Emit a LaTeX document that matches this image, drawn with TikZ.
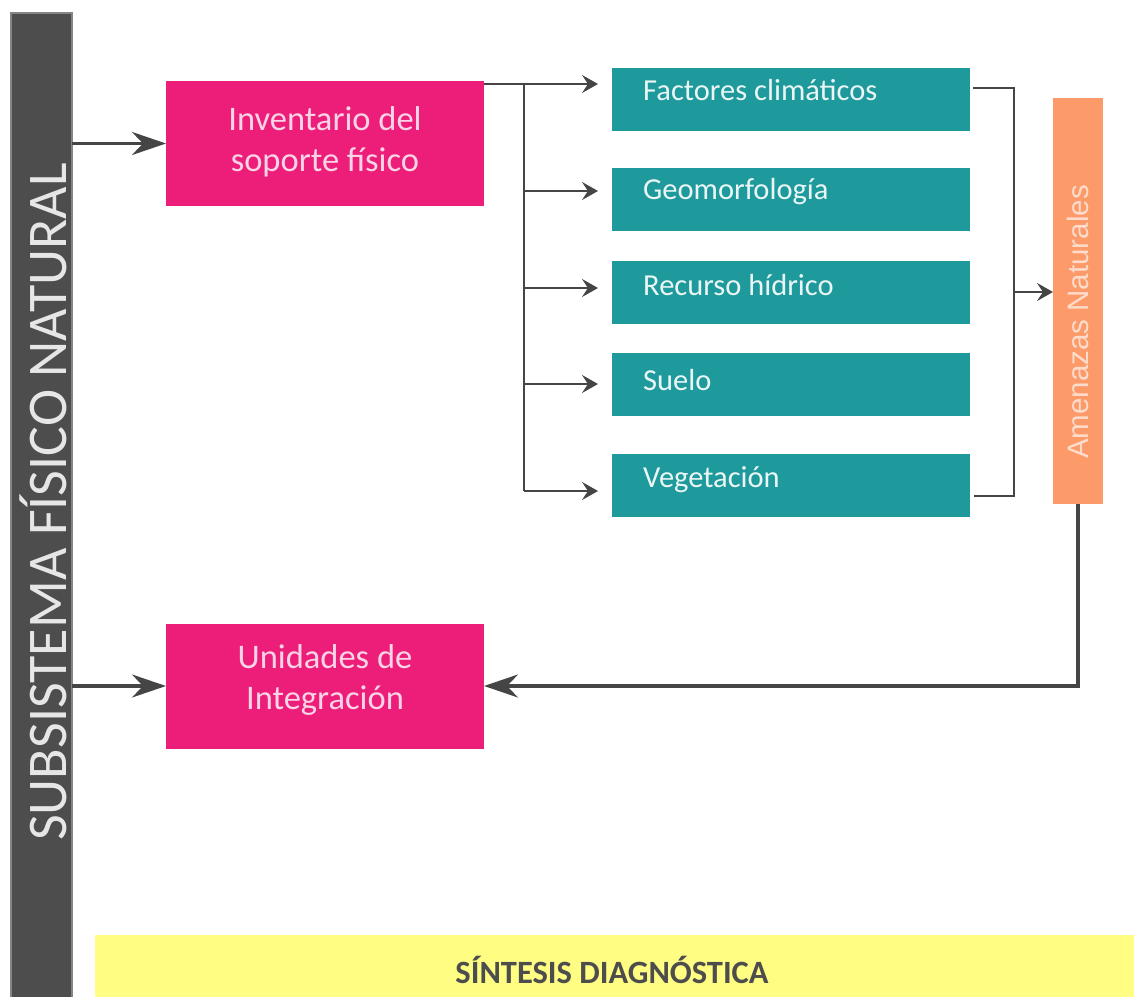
\documentclass[tikz,border=0pt]{standalone}
\usepackage{fontspec}
\setmainfont{Carlito}
\newfontfamily\arialf{Liberation Sans}
\usetikzlibrary{arrows.meta,calc}
\definecolor{barGray}{HTML}{4D4D4D}
\definecolor{barEdge}{HTML}{858585}
\definecolor{pinkBox}{HTML}{ED1E79}
\definecolor{pinkText}{HTML}{F9D3E6}
\definecolor{tealBox}{HTML}{1E999C}
\definecolor{tealText}{HTML}{EAF6F6}
\definecolor{orangeBox}{HTML}{FD9A6A}
\definecolor{orangeText}{HTML}{FDDCCB}
\definecolor{yellowBar}{HTML}{FFFD82}
\definecolor{lineGray}{HTML}{454545}
\definecolor{barText}{HTML}{E6E6E6}
\begin{document}
\begin{tikzpicture}[x=1pt,y=-1pt,
 box/.style={anchor=north west, inner sep=0pt, outer sep=0pt, draw=none},
 pinkbox/.style={box, fill=pinkBox, minimum width=318pt, minimum height=125pt},
 tealbox/.style={box, fill=tealBox, minimum width=358pt, minimum height=63pt},
 pinklabel/.style={text=pinkText, font=\fontsize{34.5}{41}\selectfont, align=center, inner sep=0pt},
 teallabel/.style={text=tealText, font=\fontsize{30.5}{34}\selectfont, anchor=base west, inner sep=0pt},
 bigarrow/.style={draw=lineGray, line width=3.2pt, -{Stealth[length=34pt,width=23pt,inset=11pt]}},
 smallarrow/.style={draw=lineGray, line width=2pt, -{Stealth[length=16pt,width=18pt,inset=6pt]}},
 thinline/.style={draw=lineGray, line width=2pt},
]
\useasboundingbox (0,0) rectangle (1134,996);
% left bar
\node[box, fill=barGray, draw=barEdge, line width=1.5pt, minimum width=61pt, minimum height=990pt] (bar) at (11,13) {};
\node[rotate=90, text=barText, font=\fontsize{56}{60}\selectfont, inner sep=0pt] (bartext) at (43,502) {SUBSISTEMA FÍSICO NATURAL};
% yellow bar
\node[box, fill=yellowBar, minimum width=1039pt, minimum height=62pt] (syn) at (95,935) {};
\node[font=\bfseries\fontsize{32.5}{34}\selectfont, text=barGray, inner sep=0pt] (syntext) at (612,970) {SÍNTESIS DIAGNÓSTICA};
% pink boxes
\node[pinkbox] (inv) at (166,81) {};
\node[pinklabel] (invtext) at (325,142) {Inventario del\\soporte físico};
\node[pinkbox] (uni) at (166,624) {};
\node[pinklabel] (unitext) at (325,680) {Unidades de\\Integración};
% teal boxes
\node[tealbox] (fc) at (612,68) {};
\node[teallabel] (fctext) at (643,100) {Factores climáticos};
\node[tealbox] (geo) at (612,168) {};
\node[teallabel] (geotext) at (643,199) {Geomorfología};
\node[tealbox] (rh) at (612,261) {};
\node[teallabel] (rhtext) at (643,295) {Recurso hídrico};
\node[tealbox] (su) at (612,353) {};
\node[teallabel] (sutext) at (643,390) {Suelo};
\node[tealbox] (veg) at (612,454) {};
\node[teallabel] (vegtext) at (643,487) {Vegetación};
% amenazas
\node[box, fill=orangeBox, minimum width=50pt, minimum height=406pt] (amen) at (1053,98) {};
\node[rotate=90, text=orangeText, font=\arialf\fontsize{29.5}{32}\selectfont, inner sep=0pt] (amentext) at (1078,322) {Amenazas Naturales};
% connector coordinates
\coordinate (trunk) at (524,84);
\coordinate (bgeo) at (524,191);
\coordinate (brh) at (524,288);
\coordinate (bsu) at (524,384);
\coordinate (bveg) at (524,491);
\coordinate (rtop) at (1014,88);
\coordinate (rmid) at (1014,292);
\coordinate (rbot) at (1014,496);
\coordinate (ret) at (1078,686);
% left arrows
\draw[bigarrow] (bar.east |- inv.west) -- (inv.west);
\draw[bigarrow] (bar.east |- ret) -- (ret -| uni.west);
% fan out
\draw[smallarrow, shorten >=14pt] (inv.east |- trunk) -- (trunk -| fc.west);
\draw[thinline] (trunk) -- (bveg);
\draw[smallarrow, shorten >=14pt] (bgeo) -- (bgeo -| geo.west);
\draw[smallarrow, shorten >=14pt] (brh) -- (brh -| rh.west);
\draw[smallarrow, shorten >=14pt] (bsu) -- (bsu -| su.west);
\draw[smallarrow, shorten >=14pt] (bveg) -- (bveg -| veg.west);
% fan in
\draw[thinline, shorten <=3pt, shorten >=4pt] (fc.east |- rtop) -- (rtop) -- (rbot) -- (veg.east |- rbot);
\draw[smallarrow] (rmid) -- (rmid -| amen.west);
% return
\draw[bigarrow] (amen.south) -- (ret) -- (ret -| uni.east);
\end{tikzpicture}
\end{document}
